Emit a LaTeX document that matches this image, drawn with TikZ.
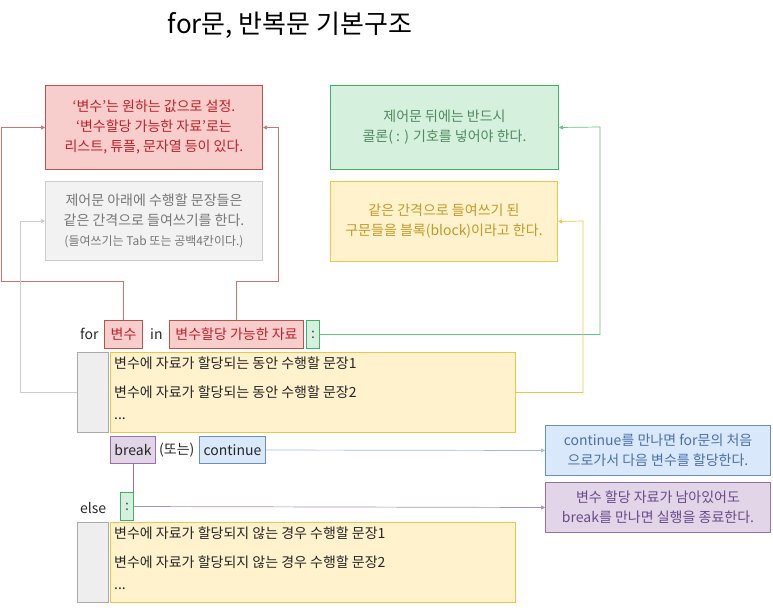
\documentclass[tikz,border=0pt]{standalone}
\usepackage{fontspec}
\setmainfont{Noto Sans CJK KR}
\usetikzlibrary{arrows.meta}
\definecolor{rF}{HTML}{F8CECC}\definecolor{rD}{HTML}{B85450}\definecolor{rT}{HTML}{C0202A}
\definecolor{gF}{HTML}{D5F0DC}\definecolor{gD}{HTML}{3FAF6A}\definecolor{gT}{HTML}{4F8A5F}
\definecolor{yF}{HTML}{FFF2CC}\definecolor{yD}{HTML}{E8C84A}\definecolor{yT}{HTML}{C09A2A}
\definecolor{bF}{HTML}{DAE8FC}\definecolor{bD}{HTML}{6C8EBF}\definecolor{bT}{HTML}{4A70A8}
\definecolor{pF}{HTML}{E1D5E7}\definecolor{pD}{HTML}{9673A6}\definecolor{pT}{HTML}{6A4A8A}
\definecolor{kF}{HTML}{F2F2F2}\definecolor{kD}{HTML}{CCCCCC}\definecolor{kT}{HTML}{777777}
\definecolor{lF}{HTML}{EEEEEE}\definecolor{lD}{HTML}{AAAAAA}
\begin{document}
\begin{tikzpicture}[x=1pt,y=-1pt,
  bx/.style={draw,line width=1pt,inner sep=0pt,anchor=north west,align=center,font=\fontsize{14}{20}\selectfont},
  tx/.style={inner sep=0pt,anchor=west,font=\fontsize{14}{16}\selectfont,text=black!85},
  cn/.style={line width=0.7pt,-{Triangle[length=4pt,width=4pt]}},
  cp/.style={line width=0.7pt}]
\useasboundingbox (0,0) rectangle (773,611);
\node[font=\fontsize{26}{30}\selectfont] (title) at (290,25) {for문, 반복문 기본구조};
% notes
\node[bx,fill=rF,draw=rD,text=rT,minimum width=217,minimum height=84] (red) at (45,85) {‘변수’는 원하는 값으로 설정.\\‘변수할당 가능한 자료’로는\\리스트, 튜플, 문자열 등이 있다.};
\node[bx,fill=kF,draw=kD,text=kT,minimum width=217,minimum height=79] (gray) at (45,181) {제어문 아래에 수행할 문장들은\\같은 간격으로 들여쓰기를 한다.\\{\fontsize{12}{16}\selectfont(들여쓰기는 Tab 또는 공백4칸이다.)}};
\node[bx,fill=gF,draw=gD,text=gT,minimum width=228,minimum height=84] (green) at (330,85) {제어문 뒤에는 반드시\\콜론( : ) 기호를 넣어야 한다.};
\node[bx,fill=yF,draw=yD,text=yT,minimum width=227,minimum height=80] (yellow) at (330,181) {같은 간격으로 들여쓰기 된\\구문들을 블록(block)이라고 한다.};
\node[bx,fill=bF,draw=bD,text=bT,minimum width=225,minimum height=50] (blue) at (545,425) {continue를 만나면 for문의 처음\\으로가서 다음 변수를 할당한다.};
\node[bx,fill=pF,draw=pD,text=pT,minimum width=225,minimum height=50] (purple) at (545,482) {변수 할당 자료가 남아있어도\\break를 만나면 실행을 종료한다.};
% for line
\node[tx] (for) at (80,334) {for};
\node[bx,fill=rF,draw=rD,text=rT,minimum width=38,minimum height=28] (var) at (104,320) {변수};
\node[tx] (in) at (150,334) {in};
\node[bx,fill=rF,draw=rD,text=rT,minimum width=134,minimum height=28] (data) at (169,320) {변수할당 가능한 자료};
\node[bx,fill=gF,draw=gD,text=black!70,minimum width=13,minimum height=28] (colon) at (306,320) {:};
% block 1
\node[bx,fill=lF,draw=lD,minimum width=31,minimum height=80] (ind1) at (77,352) {};
\node[bx,fill=yF,draw=yD,minimum width=405,minimum height=80] (blk1) at (110,352) {};
\node[tx] (l11) at (114,363) {변수에 자료가 할당되는 동안 수행할 문장1};
\node[tx] (l12) at (114,392) {변수에 자료가 할당되는 동안 수행할 문장2};
\node[tx] (l13) at (114,419) {...};
% break/continue
\node[bx,fill=pF,draw=pD,text=black!85,minimum width=45,minimum height=27] (brk) at (110,436) {break};
\node[tx] (or) at (159,450) {(또는)};
\node[bx,fill=bF,draw=bD,text=black!85,minimum width=66,minimum height=27] (cont) at (199,436) {continue};
% else
\node[tx] (else) at (80,508) {else};
\node[bx,fill=gF,draw=gD,text=black!70,minimum width=13,minimum height=28] (colon2) at (120,492) {:};
\node[bx,fill=lF,draw=lD,minimum width=31,minimum height=80] (ind2) at (77,522) {};
\node[bx,fill=yF,draw=yD,minimum width=405,minimum height=80] (blk2) at (110,522) {};
\node[tx] (l21) at (114,533) {변수에 자료가 할당되지 않는 경우 수행할 문장1};
\node[tx] (l22) at (114,562) {변수에 자료가 할당되지 않는 경우 수행할 문장2};
\node[tx] (l23) at (114,589) {...};
% connectors
\draw[cn,draw=rD!80] (var.north) |- (1,281) |- (red.west);
\draw[cn,draw=rD!80] (data.north) |- (278,281) |- (red.east);
\draw[cn,draw=kD] (ind1.west) -| (20,221) -- (gray.west);
\draw[cn,draw=gD!80] (colon.east) -| (600,127) -- (green.east);
\draw[cn,draw=yD] (blk1.east) -| (583,221) -- (yellow.east);
\draw[cn,draw=bD!60] (cont.east) -- (blue.west);
\draw[cp,draw=pD] (brk.south) -- (brk.south|-colon2.north);
\draw[cn,draw=pD!80] (colon2.east) -- (purple.west);
\end{tikzpicture}
\end{document}
